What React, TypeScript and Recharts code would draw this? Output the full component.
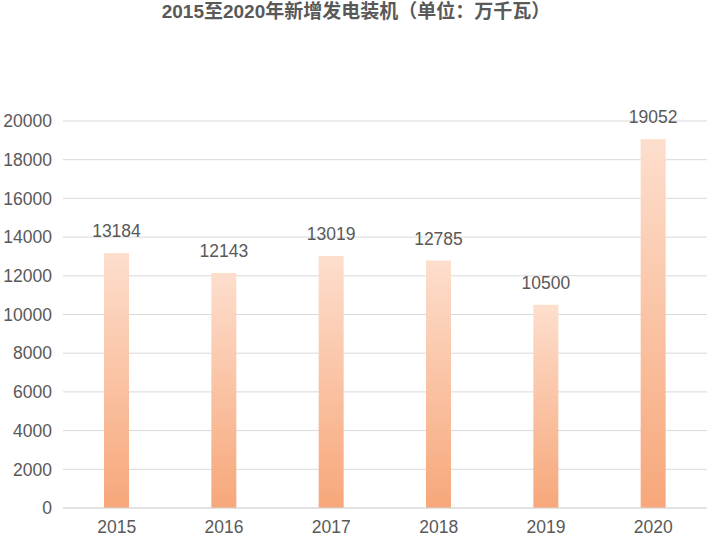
import { Bar, BarChart, CartesianGrid, LabelList, XAxis, YAxis } from 'recharts';

const years = ['2015', '2016', '2017', '2018', '2019', '2020'];
const added = [13184, 12143, 13019, 12785, 10500, 19052];
const yTicks = [0, 2000, 4000, 6000, 8000, 10000, 12000, 14000, 16000, 18000, 20000];

const rows = years.map((y, i) => ({ year: y, value: added[i] }));

const TEXT = '#595959';
const FONT = 'Arial, "Liberation Sans", "Noto Sans CJK SC", sans-serif';

export default function App() {
  return (
    <div style={{ position: 'absolute', left: 0, top: 0, width: 712, height: 540, background: '#fff', fontFamily: FONT }}>
      <div
        style={{
          position: 'absolute', left: 0, top: 1, width: 712, textAlign: 'center', lineHeight: '22px',
          fontSize: 19, fontWeight: 'bold', color: TEXT, fontFamily: FONT,
        }}
      >
        2015至2020年新增发电装机（单位：万千瓦）
      </div>
      <BarChart width={712} height={540} data={rows} margin={{ top: 121, right: 5, bottom: 2, left: 3 }}>
        <defs>
          <linearGradient id="barFill" x1="0" y1="0" x2="0" y2="1">
            <stop offset="0%" stopColor="#FDDECD" />
            <stop offset="100%" stopColor="#F7A77A" />
          </linearGradient>
        </defs>
        <CartesianGrid vertical={false} stroke="#D9D9D9" />
        <XAxis
          dataKey="year" axisLine={{ stroke: '#D9D9D9' }} tickLine={false} tickSize={0} tickMargin={13}
          height={30} tick={{ fill: TEXT, fontSize: 17.5, fontFamily: FONT }}
        />
        <YAxis
          domain={[0, 20000]} ticks={yTicks} axisLine={false} tickLine={false} tickSize={0} tickMargin={11}
          width={60} tick={{ fill: TEXT, fontSize: 17.5, fontFamily: FONT }}
        />
        <Bar dataKey="value" fill="url(#barFill)" barSize={25} isAnimationActive={false}>
          <LabelList dataKey="value" position="top" offset={16} fill={TEXT} fontSize={17.5} fontFamily={FONT} />
        </Bar>
      </BarChart>
    </div>
  );
}
